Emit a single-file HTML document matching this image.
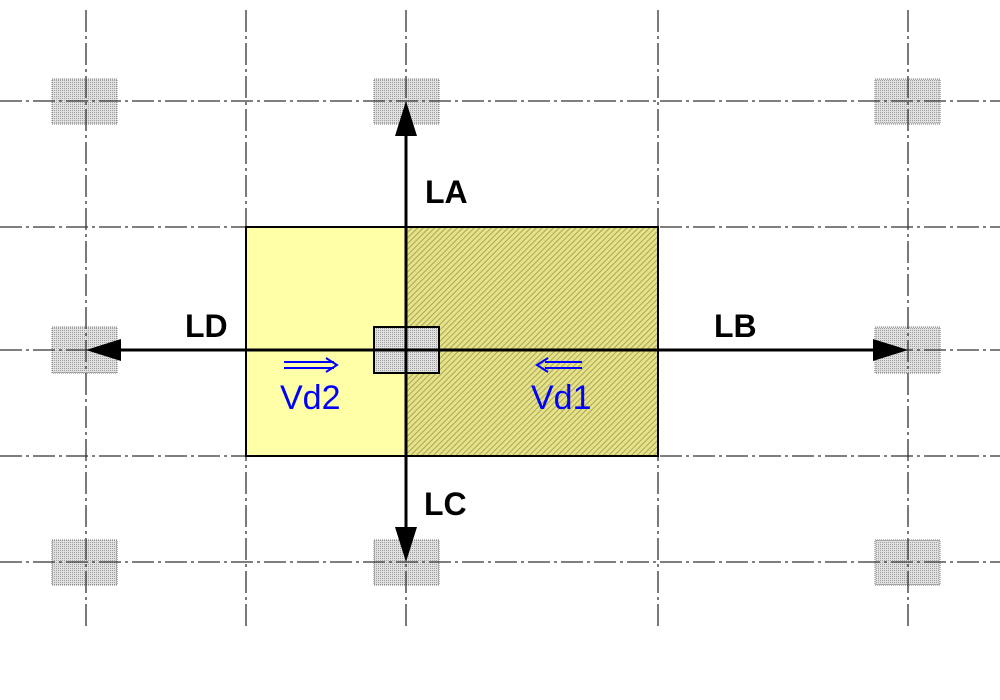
<!DOCTYPE html>
<html><head><meta charset="utf-8"><style>html,body{margin:0;padding:0;background:#fff}svg{display:block}</style></head>
<body>
<svg width="1000" height="700" viewBox="0 0 1000 700" xmlns="http://www.w3.org/2000/svg">
<defs>
<pattern id="hatch" width="4" height="4" patternUnits="userSpaceOnUse" patternTransform="rotate(45)">
<rect width="4" height="4" fill="#e6e288"/>
<line x1="0" y1="0" x2="0" y2="4" stroke="#9a9650" stroke-width="1.6"/>
</pattern>
<pattern id="dots" width="2" height="2" patternUnits="userSpaceOnUse">
<rect width="2" height="2" fill="#e0e0e0"/>
<rect width="1" height="1" fill="#a0a0a0"/>
</pattern>
</defs>
<g fill="url(#dots)" stroke="#777" stroke-width="1" stroke-dasharray="1,1">
<rect x="52" y="79" width="65" height="45"/>
<rect x="374" y="79" width="65" height="45"/>
<rect x="875" y="79" width="65" height="45"/>
<rect x="52" y="327" width="65" height="46"/>
<rect x="875" y="327" width="65" height="46"/>
<rect x="52" y="540" width="65" height="45"/>
<rect x="374" y="540" width="65" height="45"/>
<rect x="875" y="540" width="65" height="45"/>
</g>
<rect x="246" y="227" width="160" height="229" fill="#ffffa8"/>
<rect x="406" y="227" width="252" height="229" fill="url(#hatch)"/>
<g stroke="#333" stroke-width="1.3" stroke-dasharray="22,4,3,4" fill="none">
<line x1="0" y1="101" x2="1000" y2="101"/>
<line x1="0" y1="227" x2="1000" y2="227"/>
<line x1="0" y1="350" x2="1000" y2="350"/>
<line x1="0" y1="456" x2="1000" y2="456"/>
<line x1="0" y1="562" x2="1000" y2="562"/>
<line x1="86" y1="10" x2="86" y2="628"/>
<line x1="246" y1="10" x2="246" y2="628"/>
<line x1="406" y1="10" x2="406" y2="628"/>
<line x1="658" y1="10" x2="658" y2="628"/>
<line x1="908" y1="10" x2="908" y2="628"/>
</g>
<rect x="246" y="227" width="412" height="229" fill="none" stroke="#000" stroke-width="2"/>
<rect x="374" y="327" width="65" height="46" fill="url(#dots)" stroke="#000" stroke-width="2"/>
<g stroke="#000" stroke-width="3">
<line x1="406" y1="130" x2="406" y2="536"/>
<line x1="112" y1="350" x2="882" y2="350"/>
</g>
<g fill="#000">
<polygon points="406,101 395,136 417,136"/>
<polygon points="406,562 395,527 417,527"/>
<polygon points="86,350 121,339 121,361"/>
<polygon points="908,350 873,339 873,361"/>
</g>
<g font-family="Liberation Sans, sans-serif" font-weight="bold" font-size="32" fill="#000">
<text x="425" y="203">LA</text>
<text x="185" y="337">LD</text>
<text x="714" y="337">LB</text>
<text x="424" y="515">LC</text>
</g>
<g font-family="Liberation Sans, sans-serif" font-size="34" fill="#0000ff">
<text x="280" y="409">Vd2</text>
<text x="531" y="409">Vd1</text>
</g>
<g stroke="#0000ff" stroke-width="2" fill="none">
<line x1="284" y1="362" x2="334" y2="362"/><line x1="284" y1="368" x2="334" y2="368"/>
<polyline points="326,358 337,365 326,372"/>
<line x1="545" y1="362" x2="582" y2="362"/><line x1="545" y1="368" x2="582" y2="368"/>
<polyline points="548,358 537,365 548,372"/>
</g>
</svg>
</body></html>
